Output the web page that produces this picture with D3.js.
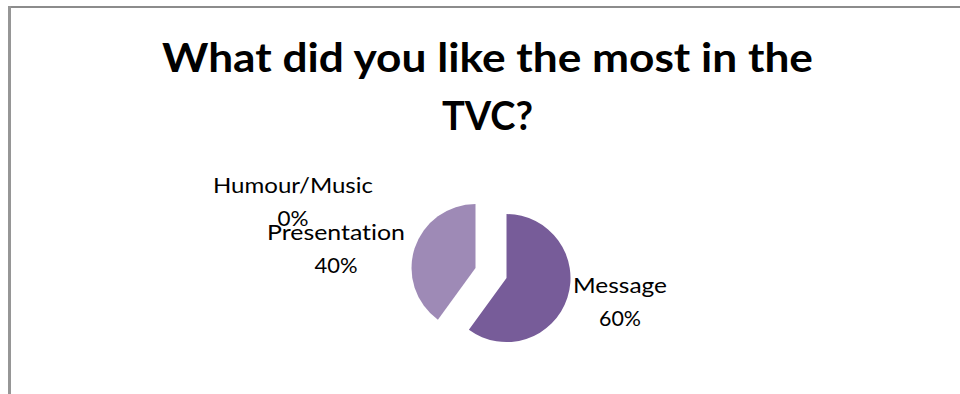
<!DOCTYPE html>
<html>
<head>
<meta charset="utf-8">
<script src="https://cdn.jsdelivr.net/npm/d3@7"></script>
<style>
  html, body { margin: 0; padding: 0; background: #fff; }
  svg { display: block; }
  text {
    font-family: Lato, "Open Sans", "Liberation Sans", sans-serif;
    fill: #000;
    font-variant-ligatures: none;
    font-feature-settings: "liga" 0, "dlig" 0;
  }
</style>
</head>
<body>
<svg id="chart" width="960" height="394"></svg>
<script>
// Survey answers
const categories = ["Message", "Presentation", "Humour/Music"];
const shares = [60, 40, 0];           // percent
const titleLines = ["What did you like the most in the", "TVC?"];
const sliceColors = ["#775c99", "#9e8ab6", "#c3b6d3"];

const W = 960, H = 394;
const svg = d3.select("#chart");

// Frame: top and left edges of the chart area
svg.append("rect").attr("x", 8).attr("y", 6).attr("width", W - 8).attr("height", 2).attr("fill", "#8c8c8c");
svg.append("rect").attr("x", 8).attr("y", 6).attr("width", 3).attr("height", H - 6).attr("fill", "#969696");

// Title, each line fitted to its width
const titleBox = [
  { x: 487.5, y: 72, w: 651 },
  { x: 487.5, y: 130, w: 91 }
];
titleLines.forEach((t, i) => {
  svg.append("text")
    .attr("x", titleBox[i].x)
    .attr("y", titleBox[i].y)
    .attr("text-anchor", "middle")
    .attr("font-size", 40.5)
    .attr("font-weight", 700)
    .attr("textLength", titleBox[i].w)
    .attr("lengthAdjust", "spacingAndGlyphs")
    .text(t);
});

// Pie
const cx = 475.5, cy = 268, r = 64, explode = 32.6;
const pie = d3.pie().sort(null).value(d => d)(shares);
const arc = d3.arc().innerRadius(0).outerRadius(r);

const g = svg.append("g").attr("transform", `translate(${cx},${cy})`);
g.selectAll("path")
  .data(pie)
  .join("path")
  .attr("transform", (d, i) => {
    if (i !== 0) return null;
    const a = (d.startAngle + d.endAngle) / 2;
    return `translate(${explode * Math.sin(a)},${-explode * Math.cos(a)})`;
  })
  .attr("d", arc)
  .attr("fill", (d, i) => sliceColors[i]);

// Data labels: name on the first line, percentage on the second
const labelPos = [
  { x: 620, y: 293, w1: 94, w2: 42, gap: 33 },
  { x: 336, y: 240, w1: 138, w2: 43, gap: 33 },
  { x: 293, y: 193, w1: 160, w2: 31, gap: 33 }
];
categories.forEach((c, i) => {
  const p = labelPos[i];
  svg.append("text")
    .attr("x", p.x).attr("y", p.y)
    .attr("text-anchor", "middle")
    .attr("font-size", 20.5)
    .attr("textLength", p.w1)
    .attr("lengthAdjust", "spacingAndGlyphs")
    .text(c);
  svg.append("text")
    .attr("x", p.x).attr("y", p.y + p.gap)
    .attr("text-anchor", "middle")
    .attr("font-size", 20.5)
    .attr("textLength", p.w2)
    .attr("lengthAdjust", "spacingAndGlyphs")
    .text(shares[i] + "%");
});
</script>
</body>
</html>
